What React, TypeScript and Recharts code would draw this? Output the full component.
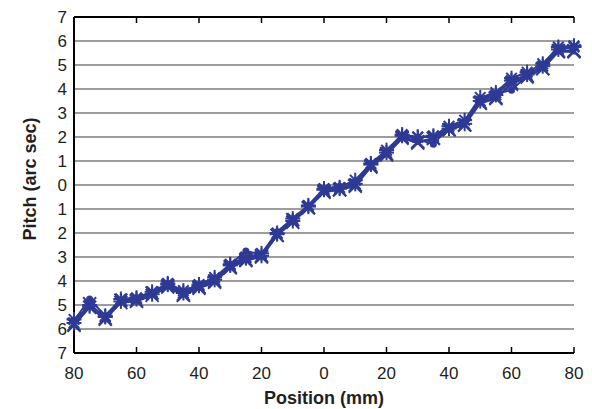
import React from "react";
import { CartesianGrid, Label, Line, LineChart, XAxis, YAxis } from "recharts";

// position along travel (mm)
const positions = [-80, -75, -70, -65, -60, -55, -50, -45, -40, -35, -30, -25, -20, -15, -10, -5, 0, 5, 10, 15, 20, 25, 30, 35, 40, 45, 50, 55, 60, 65, 70, 75, 80];

// pitch error per run (arc sec)
const runA = [-5.75, -5.0, -5.5, -4.85, -4.75, -4.55, -4.15, -4.5, -4.2, -3.95, -3.35, -3.05, -2.95, -2.05, -1.5, -0.9, -0.2, -0.15, 0.05, 0.85, 1.35, 2.05, 2.0, 2.0, 2.35, 2.55, 3.5, 3.75, 4.35, 4.6, 4.95, 5.65, 5.75];
const runB = [-5.8, -4.95, -5.55, -4.8, -4.8, -4.5, -4.2, -4.55, -4.25, -4.0, -3.4, -3.1, -2.95, -2.1, -1.45, -0.95, -0.25, -0.2, 0.0, 0.8, 1.3, 2.0, 1.8, 1.95, 2.3, 2.5, 3.4, 3.6, 4.25, 4.55, 4.85, 5.6, 5.6];
const runC = [-5.65, -4.75, -5.45, -4.8, -4.7, -4.5, -4.1, -4.45, -4.15, -3.9, -3.3, -2.75, -2.9, -1.95, -1.4, -0.85, -0.15, -0.05, 0.15, 0.9, 1.4, 2.05, 1.9, 1.7, 2.4, 2.65, 3.6, 3.8, 3.95, 4.55, 5.0, 5.7, 5.75];
const runD = [-5.6, -5.05, -5.45, -4.75, -4.7, -4.45, -4.1, -4.4, -4.15, -3.85, -3.3, -3.0, -2.85, -2.0, -1.4, -0.85, -0.15, -0.1, 0.2, 0.9, 1.45, 2.1, 2.0, 2.05, 2.45, 2.7, 3.65, 3.85, 4.45, 4.7, 5.05, 5.75, 5.8];
const runE = [-5.85, -5.1, -5.6, -4.9, -4.85, -4.6, -4.25, -4.6, -4.3, -4.05, -3.45, -3.15, -3.0, -2.1, -1.55, -0.95, -0.3, -0.2, -0.05, 0.75, 1.25, 1.95, 1.75, 1.95, 2.3, 2.5, 3.45, 3.65, 4.2, 4.5, 4.85, 5.55, 5.55];

const xTicks = [-80, -60, -40, -20, 0, 20, 40, 60, 80];
const yTicks = [-7, -6, -5, -4, -3, -2, -1, 0, 1, 2, 3, 4, 5, 6, 7];

const data = positions.map((x, i) => ({ x, a: runA[i], b: runB[i], c: runC[i], d: runD[i], e: runE[i] }));

const BLUE = "#2e3a94";
const INK = "#231f20";
const FONT = "Helvetica, 'Liberation Sans', Arial, sans-serif";

const star = (p: any) => {
  const { cx, cy, key } = p;
  const r = 7.5, d = 5.3;
  return (
    <g key={key} stroke={BLUE} strokeWidth={2}>
      <line x1={cx - r} y1={cy} x2={cx + r} y2={cy} />
      <line x1={cx} y1={cy - r} x2={cx} y2={cy + r} />
      <line x1={cx - d} y1={cy - d} x2={cx + d} y2={cy + d} />
      <line x1={cx - d} y1={cy + d} x2={cx + d} y2={cy - d} />
    </g>
  );
};

const cross = (p: any) => {
  const { cx, cy, key } = p;
  const d = 6.5;
  return (
    <g key={key} stroke={BLUE} strokeWidth={2}>
      <line x1={cx - d} y1={cy - d} x2={cx + d} y2={cy + d} />
      <line x1={cx - d} y1={cy + d} x2={cx + d} y2={cy - d} />
    </g>
  );
};

const point = (p: any) => <circle key={p.key} cx={p.cx} cy={p.cy} r={3.5} fill={BLUE} stroke="none" />;

const noLabel = () => <g />;

const tickStyle = { fontSize: 17, fill: INK, fontFamily: FONT };
const frame = { stroke: "#000", strokeWidth: 2 };
const tickMark = { stroke: "#000", strokeWidth: 1.5 };

export default function App() {
  return (
    <div style={{ width: 592, height: 409, background: "#fff" }}>
      <style>{"body{margin:0}"}</style>
      <LineChart width={592} height={409} data={data} margin={{ top: 17, right: 18, bottom: 0, left: 0 }}>
        <CartesianGrid vertical={false} stroke="#7d7d7d" strokeWidth={1.5} />
        <XAxis
          dataKey="x"
          type="number"
          domain={[-80, 80]}
          ticks={xTicks}
          interval={0}
          height={56}
          tickSize={0}
          tickMargin={14}
          tickLine={false}
          axisLine={frame}
          tick={tickStyle}
          tickFormatter={(v: number) => String(Math.abs(v))}
        >
          <Label
            content={({ viewBox }: any) => (
              <text x={viewBox.x + viewBox.width / 2} y={viewBox.y + 51} textAnchor="middle" fontSize={18} fontWeight="bold" fill={INK} fontFamily={FONT}>
                Position (mm)
              </text>
            )}
          />
        </XAxis>
        <XAxis xAxisId="bottomTicks" dataKey="x" type="number" domain={[-80, 80]} ticks={xTicks} interval={0} mirror tick={noLabel} tickSize={6} tickLine={tickMark} axisLine={false} />
        <XAxis xAxisId="top" orientation="top" dataKey="x" type="number" domain={[-80, 80]} ticks={xTicks} interval={0} mirror tick={noLabel} tickSize={6} tickLine={tickMark} axisLine={frame} />
        <YAxis
          type="number"
          domain={[-7, 7]}
          ticks={yTicks}
          interval={0}
          width={74}
          tickSize={0}
          tickMargin={7}
          tickLine={false}
          axisLine={frame}
          tick={tickStyle}
          tickFormatter={(v: number) => String(Math.abs(v))}
        >
          <Label
            content={({ viewBox }: any) => {
              const cx = viewBox.x + 30;
              const cy = viewBox.y + viewBox.height / 2 - 6;
              return (
                <text x={cx} y={cy} transform={`rotate(-90 ${cx} ${cy})`} textAnchor="middle" dominantBaseline="central" fontSize={18} fontWeight="bold" fill={INK} fontFamily={FONT}>
                  Pitch (arc sec)
                </text>
              );
            }}
          />
        </YAxis>
        <YAxis yAxisId="right" orientation="right" type="number" domain={[-7, 7]} ticks={yTicks} interval={0} width={0} mirror tick={noLabel} tickSize={6} tickLine={tickMark} axisLine={frame} />
        <Line dataKey="b" stroke={BLUE} strokeWidth={2} dot={cross} isAnimationActive={false} />
        <Line dataKey="e" stroke={BLUE} strokeWidth={2} dot={cross} isAnimationActive={false} />
        <Line dataKey="c" stroke={BLUE} strokeWidth={2} dot={point} isAnimationActive={false} />
        <Line dataKey="d" stroke={BLUE} strokeWidth={2} dot={star} isAnimationActive={false} />
        <Line dataKey="a" stroke={BLUE} strokeWidth={2} dot={star} isAnimationActive={false} />
      </LineChart>
    </div>
  );
}
